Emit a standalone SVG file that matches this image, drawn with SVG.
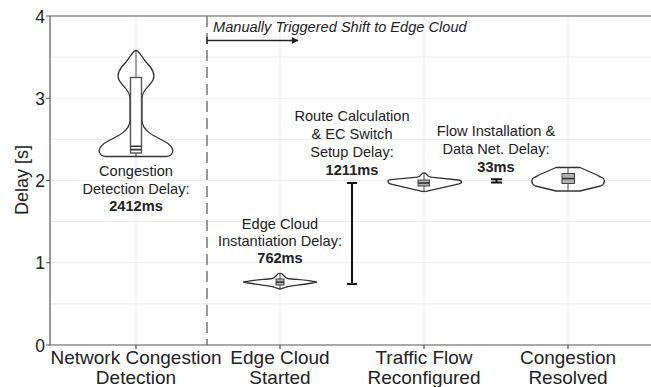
<svg xmlns="http://www.w3.org/2000/svg" width="651" height="387" viewBox="0 0 651 387">
  <style>
    text { font-family: "Liberation Sans", Arial, sans-serif; fill: #222; }
    .tick { font-size: 17.5px; text-anchor: end; }
    .xlab { font-size: 19px; text-anchor: middle; }
    .ann { font-size: 14.6px; text-anchor: middle; }
    .ann .b { font-weight: bold; }
    .grid { stroke: #ebebeb; stroke-width: 1; fill: none; }
    .axis { stroke: #555; stroke-width: 1.2; fill: none; }
    .violin { fill: #fff; stroke: #333; stroke-width: 1.3; stroke-linejoin: round; }
    .whisk { stroke: #444; stroke-width: 1; }
    .box { fill: #fff; stroke: #555; stroke-width: 1.4; }
    .sbox { fill: #b0b0b0; stroke: #444; stroke-width: 1; }
    .med { stroke: #333; stroke-width: 1.6; }
    .err { stroke: #111; stroke-width: 2; fill: none; }
  </style>
  <defs>
    <marker id="arrowhead" viewBox="0 0 10 10" refX="9" refY="5" markerWidth="7" markerHeight="7" markerUnits="userSpaceOnUse" orient="auto">
      <path d="M0,0 L10,5 L0,10 z" fill="#222"/>
    </marker>
  </defs>

  <rect width="651" height="387" fill="#fff"/>

  <!-- panel grid -->
  <g id="grid">
    <path class="grid" d="M50,57.1H651M50,98.25H651M50,139.4H651M50,180.5H651M50,221.6H651M50,262.75H651M50,303.9H651"/>
    <path class="grid" d="M136,16V345M280,16V345M424,16V345M568,16V345"/>
  </g>

  <!-- axes -->
  <g id="axes">
    <path class="axis" d="M50,16H651M50,16V345H651"/>
    <path class="axis" d="M46,16H50M46,98.25H50M46,180.5H50M46,262.75H50M46,345H50"/>
    <path class="axis" d="M136,345V349M280,345V349M424,345V349M568,345V349"/>
    <text class="tick" x="45" y="22.5">4</text>
    <text class="tick" x="45" y="104.7">3</text>
    <text class="tick" x="45" y="187">2</text>
    <text class="tick" x="45" y="269.2">1</text>
    <text class="tick" x="45" y="351.5">0</text>
    <text x="0" y="0" font-size="18" text-anchor="middle" transform="translate(28,180) rotate(-90)">Delay [s]</text>
    <text class="xlab" x="136" y="363.5">Network Congestion</text>
    <text class="xlab" x="136" y="383.5">Detection</text>
    <text class="xlab" x="280" y="363.5">Edge Cloud</text>
    <text class="xlab" x="280" y="383.5">Started</text>
    <text class="xlab" x="424" y="363.5">Traffic Flow</text>
    <text class="xlab" x="424" y="383.5">Reconfigured</text>
    <text class="xlab" x="568" y="363.5">Congestion</text>
    <text class="xlab" x="568" y="383.5">Resolved</text>
  </g>

  <!-- shift marker -->
  <g id="shift">
    <path d="M207,16V345" stroke="#777" stroke-width="1.5" stroke-dasharray="11 6"/>
    <path d="M207,37V44" stroke="#222" stroke-width="1.3"/>
    <path d="M207,40.5H298" stroke="#222" stroke-width="1.3" marker-end="url(#arrowhead)"/>
    <text x="213" y="31.5" font-size="14.6" font-style="italic">Manually Triggered Shift to Edge Cloud</text>
  </g>

  <!-- Network Congestion Detection -->
  <g id="detection">
    <path class="violin" d="M136,50.5
      C139,50.5 141,56 146,62 C152,68 156,74 153,80 C150,86 142,90 142,98 L142,120
      C142,130 152,135 162,140 C170,144 175,149 172,153.5 C170.5,156.5 168,156.5 165,156.5
      L107,156.5 C104,156.5 101.5,156.5 100,153.5 C97,149 102,144 110,140
      C120,135 130,130 130,120 L130,98 C130,90 122,86 119,80 C116,74 120,68 126,62
      C131,56 133,50.5 136,50.5 Z"/>
    <path class="whisk" d="M136,50.5V77.5M136,153V156.5"/>
    <rect class="box" x="130.5" y="77.5" width="11" height="75.5"/>
    <path class="med" d="M130.5,146.3H141.5M130.5,149.6H141.5"/>
    <text class="ann" x="136" y="176.3">Congestion</text>
    <text class="ann" x="136" y="193.8">Detection Delay:</text>
    <text class="ann b" x="136" y="211.3" font-weight="bold">2412ms</text>
  </g>

  <!-- Edge Cloud Started -->
  <g id="edge-cloud">
    <path class="violin" d="M243.5,282 C252,280 265,279.5 272,278.5 C275,278 275.5,276 277,275
      C277.5,273.5 278.5,273.3 280,273.3 C281.5,273.3 282.5,273.5 283,275 C284.5,276 285,278 288,278.5
      C295,279.5 308,280 316.5,282 C308,284 294,285.5 286,287 C283,288 281.5,289 280,289
      C278.5,289 277,288 274,287 C266,285.5 252,284 243.5,282 Z"/>
    <path class="whisk" d="M280,273.5V289"/>
    <rect class="sbox" x="276" y="279" width="8" height="6"/>
    <path class="med" d="M276,282.2H284"/>
    <text class="ann" x="280" y="228.5">Edge Cloud</text>
    <text class="ann" x="280" y="245.8">Instantiation Delay:</text>
    <text class="ann" x="280" y="263" font-weight="bold">762ms</text>
  </g>

  <!-- Route Calculation & EC Switch interval -->
  <g id="route-calc">
    <path class="err" d="M352,183V284M347,183H357M347,284H357"/>
    <text class="ann" x="352" y="120.8">Route Calculation</text>
    <text class="ann" x="352" y="138.7">&amp; EC Switch</text>
    <text class="ann" x="352" y="156.8">Setup Delay:</text>
    <text class="ann" x="352" y="175" font-weight="bold">1211ms</text>
  </g>

  <!-- Traffic Flow Reconfigured -->
  <g id="traffic-flow">
    <path class="violin" d="M388,181 C388,180 389,179.8 391,179.6 L417,177.2 C419,176.8 420,176 421,174.8
      C421.8,173.3 422.5,172.8 424,172.8 C425.5,172.8 426.2,173.3 427,174.8 C428,176 429,176.8 431,177.2
      L458,180 C460.5,180.3 461.5,181 461.5,182 C461.5,183 460.5,183.6 458,184.2 L427,191.2
      C425,191.8 423,191.8 421,191.2 L391,184.2 C389,183.7 388,182.8 388,181 Z"/>
    <path class="whisk" d="M424,173V191.5"/>
    <rect class="sbox" x="418" y="180" width="11.5" height="6"/>
    <path class="med" d="M418,183H429.5"/>
  </g>

  <!-- Flow Installation & Data Net. interval -->
  <g id="flow-install">
    <path class="err" d="M491,179.2H502M491,182.4H502M496.5,179.2V182.4"/>
    <text class="ann" x="496" y="136">Flow Installation &amp;</text>
    <text class="ann" x="496" y="154.3">Data Net. Delay:</text>
    <text class="ann" x="496" y="172.3" font-weight="bold">33ms</text>
  </g>

  <!-- Congestion Resolved -->
  <g id="resolved">
    <path class="violin" d="M556,167.5 L580,167.5 L596,174.5 C598,175.2 599,176.5 601,177.2
      C603,177.8 604.3,179.5 604.3,181.5 C604.3,183.5 603,184.8 600.5,186 L580,191 L556,191
      L535.5,186 C533,184.8 531.8,183.5 531.8,181.5 C531.8,179.5 533,177.8 535,177.2
      C537,176.5 538,175.2 540,174.5 Z"/>
    <path class="whisk" d="M568,167.5V191"/>
    <rect class="sbox" x="562" y="173.5" width="12.5" height="10"/>
    <path class="med" d="M562,178.6H574.5"/>
  </g>
</svg>
